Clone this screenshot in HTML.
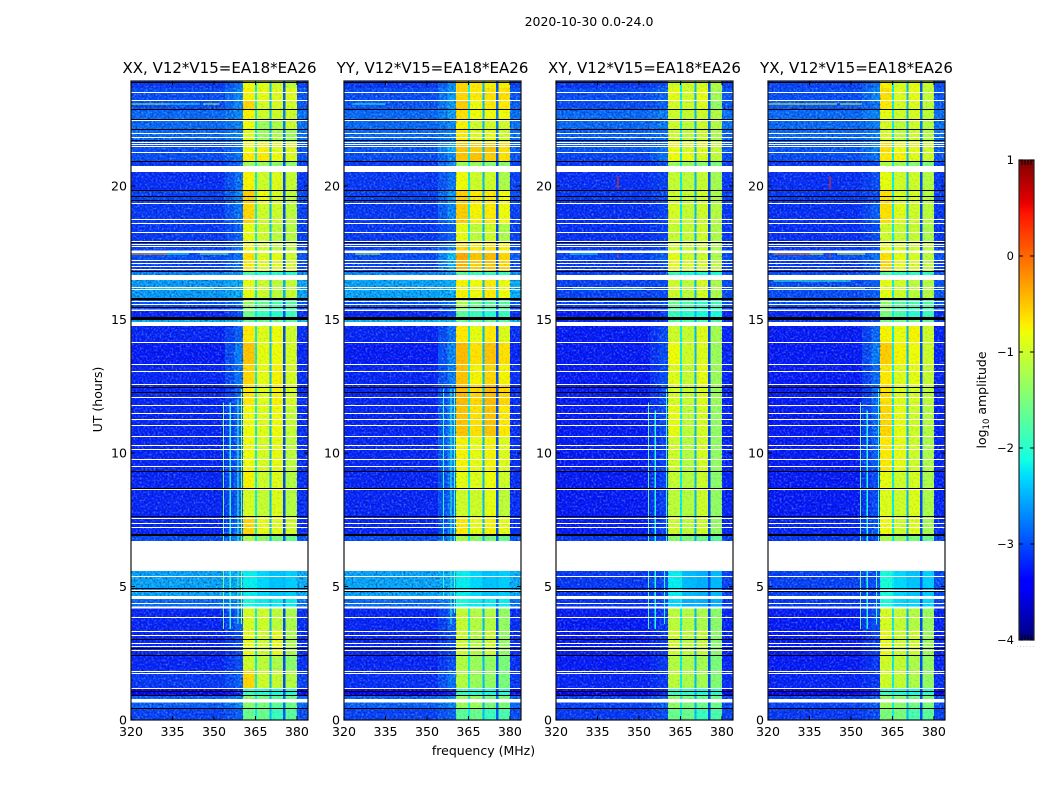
<!DOCTYPE html>
<html>
<head>
<meta charset="utf-8">
<title>Waterfall 2020-10-30</title>
<style>
html,body{margin:0;padding:0;background:#fff;width:1050px;height:800px;overflow:hidden}
svg{display:block}
text{font-family:"DejaVu Sans","Liberation Sans",sans-serif;fill:#000}
</style>
</head>
<body>
<svg id="figure" xmlns="http://www.w3.org/2000/svg" width="1050" height="800" viewBox="0 0 1050 800">
  <defs>
    <filter id="speckleLight" x="0" y="0" width="100%" height="100%" color-interpolation-filters="sRGB">
      <feTurbulence type="fractalNoise" baseFrequency="0.5" numOctaves="1" seed="7"/>
      <feColorMatrix type="matrix" values="0 0 0 0 1  0 0 0 0 1  0 0 0 0 1  3 0 0 0 -1.4"/>
    </filter>
    <filter id="speckleDark" x="0" y="0" width="100%" height="100%" color-interpolation-filters="sRGB">
      <feTurbulence type="fractalNoise" baseFrequency="0.5" numOctaves="1" seed="23"/>
      <feColorMatrix type="matrix" values="0 0 0 0 0  0 0 0 0 0  0 0 0 0 0.3  3 0 0 0 -1.4"/>
    </filter>
  </defs>
  <text x="589" y="26" text-anchor="middle" font-size="12.5">2020-10-30 0.0-24.0</text>
  <text x="483.5" y="755" text-anchor="middle" font-size="12.5">frequency (MHz)</text>
  <text transform="translate(102,399.5) rotate(-90)" text-anchor="middle" font-size="12.5">UT (hours)</text>
  <text transform="translate(986,400) rotate(-90)" text-anchor="middle" font-size="12.5">log<tspan font-size="8.5" dy="3">10</tspan><tspan dy="-3"> amplitude</tspan></text>
  <g id="panels"></g>
  <g>
    <g id="colorbarSteps"></g>
    <rect x="1019" y="160" width="15" height="480" fill="none" stroke="#222" stroke-width="1.2"/>
    <path d="M1019 640h4M1034 640h-4M1019 544h4M1034 544h-4M1019 448h4M1034 448h-4M1019 352h4M1034 352h-4M1019 256h4M1034 256h-4M1019 160h4M1034 160h-4" stroke="#000" stroke-width="1" fill="none"/>
    <path d="M1022 160v5M1025 160v5M1028 160v5M1031 160v5M1022 640v-5M1025 640v-5M1028 640v-5M1031 640v-5" stroke="#000" stroke-width="1" fill="none"/>
    <text x="1014" y="644" text-anchor="end" font-size="11.5">−4</text>
    <text x="1014" y="548" text-anchor="end" font-size="11.5">−3</text>
    <text x="1014" y="452" text-anchor="end" font-size="11.5">−2</text>
    <text x="1014" y="356" text-anchor="end" font-size="11.5">−1</text>
    <text x="1014" y="260" text-anchor="end" font-size="11.5">0</text>
    <text x="1014" y="164" text-anchor="end" font-size="11.5">1</text>
    <text x="1026" y="647" text-anchor="middle" font-size="6" letter-spacing="1.2" style="fill:#999">......</text>
  </g>
</svg>
<script>
/* ---------- data ---------- */
const panelTitles = ["XX, V12*V15=EA18*EA26","YY, V12*V15=EA18*EA26","XY, V12*V15=EA18*EA26","YX, V12*V15=EA18*EA26"];
const freqTicks = [320,335,350,365,380];
const utTicks = [0,5,10,15,20];
/* time block edges, hours */
const utEdges = [0,.45,.94,1.2,1.87,2.43,3.37,4.19,4.64,5.58,6.7,6.93,7.64,8.61,9.36,10.64,11.8,12.58,13.33,14.16,14.76,15.06,15.39,15.81,16.48,16.82,17.23,17.53,17.94,18.61,19.36,19.85,20.52,20.94,21.27,21.65,22.13,22.51,22.88,23.22,23.67,23.95];
/* one row per time block: background, ramp, band1, band2, band3, band4 (log10 amplitude) */
const levelsXX = [
[-3.05,-2.9,-1.6,-1.6,-1.9,-1.7],[-2.9,-2.7,-1.4,-1.5,-1.7,-1.6],[-3.4,-3.2,-1.9,-2,-2.1,-2],[-3.1,-2.9,-.6,-1,-1.05,-1.15],
[-3.2,-3,-1,-1.1,-1.2,-1.4],[-3.2,-3,-.85,-1,-.85,-1.2],[-3.2,-2.9,-.95,-1,-1.1,-1.2],[-2.85,-2.7,-2.1,-2.2,-2.2,-2.2],
[-2.55,-2.5,-2.2,-2.3,-2.4,-2.35],[-2.55,-2.5,-2.2,-2.3,-2.4,-2.35],[-3,-2.7,-1.2,-1.35,-1.5,-1.6],[-3.2,-2.8,-.6,-.85,-.9,-1],
[-3.2,-2.9,-.95,-1.05,-.9,-1.15],[-3.2,-2.9,-.75,-1,-.9,-1.15],[-3.2,-2.9,-.8,-.95,-.85,-1.1],[-3.2,-2.9,-.8,-.9,-.8,-1.05],
[-3.2,-2.9,-.7,-.9,-.75,-.95],[-3.2,-2.8,-.6,-.85,-.75,-.95],[-3.25,-2.75,-.5,-.85,-.8,-.95],[-3.2,-2.9,-.7,-.9,-.8,-1],
[-2.5,-2.4,-1.6,-1.6,-1.6,-1.7],[-3.2,-3,-1.6,-1.9,-2,-1.9],[-3,-2.8,-1.3,-1.6,-1.8,-1.7],[-2.6,-2.5,-.85,-1,-1.1,-1.05],
[-2.7,-2.6,-1.8,-2,-2,-2],[-3.05,-2.8,-.7,-.9,-.9,-.95],[-3,-2.8,-.65,-.9,-.85,-1],[-3.05,-2.8,-.8,-1,-1.1,-1.1],
[-3.1,-2.9,-.85,-1,-1.1,-1.15],[-3.1,-2.8,-.6,-1,-1,-1.1],[-3.05,-2.7,-.55,-.8,-.95,-1.1],[-3.15,-2.8,-.75,-1,-.9,-1.05],
[-3.1,-2.9,-1.3,-1.3,-1.4,-1.4],[-3,-2.8,-.7,-.7,-.8,-.9],[-3,-2.8,-.8,-.75,-.9,-.9],[-2.85,-2.7,-.9,-1.3,-1.2,-1.3],
[-2.85,-2.7,-.8,-1.3,-1.2,-1],[-2.85,-2.7,-.75,-1,-1,-1],[-3,-2.7,-.6,-.95,-.95,-.95],[-3,-2.7,-.75,-.85,-.9,-.9],[-3.1,-2.8,-.8,-.9,-1,-1.1]];
const levelsYY = [
[-3.05,-2.9,-1.7,-1.6,-1.9,-1.8],[-2.9,-2.7,-1.3,-1.3,-1.5,-1.5],[-3.4,-3.2,-1.9,-2,-2.1,-2],[-3.15,-2.8,-1.15,-1.3,-1.35,-1.5],
[-3.2,-3,-1.15,-1.3,-1.35,-1.5],[-3.2,-3,-1,-1.15,-1,-1.35],[-3.2,-2.9,-1.05,-1.15,-1.15,-1.35],[-2.85,-2.7,-2.1,-2.2,-2.2,-2.2],
[-2.55,-2.5,-2.2,-2.3,-2.4,-2.35],[-2.55,-2.5,-2.2,-2.3,-2.4,-2.35],[-3,-2.7,-1.2,-1.35,-1.5,-1.6],[-3.2,-2.8,-.7,-.85,-.75,-.85],
[-3.2,-2.8,-1,-1,-.85,-1.1],[-3.2,-2.8,-.85,-.9,-.8,-1],[-3.2,-2.7,-.75,-.85,-.75,-.9],[-3.2,-2.7,-.5,-.65,-.5,-.7],
[-3.2,-2.8,-.45,-.6,-.45,-.6],[-3.2,-2.75,-.5,-.75,-.6,-.75],[-3.25,-2.7,-.45,-.65,-.5,-.65],[-3.2,-2.8,-.7,-.85,-.7,-.9],
[-2.5,-2.4,-1.6,-1.6,-1.6,-1.7],[-3.2,-3,-1.7,-1.9,-2,-1.9],[-3,-2.8,-1.2,-1.6,-1.7,-1.7],[-2.55,-2.5,-.75,-.8,-.7,-.8],
[-2.7,-2.6,-1.7,-1.9,-1.9,-1.9],[-3.05,-2.5,-.4,-.55,-.5,-.6],[-3,-2.4,-.35,-.5,-.45,-.6],[-3.05,-2.7,-.6,-.7,-.65,-.75],
[-3.1,-2.9,-.85,-1.1,-1,-1.2],[-3.1,-2.7,-.55,-.75,-.7,-.8],[-3.05,-2.6,-.55,-.7,-.7,-.8],[-3.1,-2.8,-.8,-1,-1,-1.2],
[-3.1,-2.7,-1.3,-1.3,-1.4,-1.4],[-3,-2.7,-.5,-.5,-.55,-.65],[-2.95,-2.5,-.5,-.55,-.5,-.65],[-2.85,-2.7,-.7,-.9,-.85,-1],
[-2.85,-2.7,-.75,-1,-.95,-1],[-2.85,-2.6,-.65,-.8,-.8,-.8],[-2.95,-2.6,-.55,-.8,-.7,-.7],[-3,-2.6,-.6,-.7,-.65,-.65],[-3.1,-2.7,-.6,-.7,-.75,-.75]];
const levelsXY = [
[-3.1,-3,-1.6,-1.6,-1.9,-1.8],[-3.05,-2.9,-1.35,-1.5,-1.6,-1.6],[-3.4,-3.2,-1.9,-2,-2.1,-2],[-3.2,-3.1,-1.1,-1.2,-1.25,-1.45],
[-3.25,-3.1,-1.15,-1.2,-1.25,-1.5],[-3.25,-3.1,-1,-1.1,-1.05,-1.4],[-3.25,-3.1,-1.1,-1.15,-1.2,-1.4],[-3.15,-3,-2.3,-2.5,-2.5,-2.5],
[-3.1,-3,-2.2,-2.45,-2.5,-2.45],[-3.1,-3,-2.2,-2.45,-2.5,-2.45],[-3.1,-3,-1.4,-1.5,-1.6,-1.7],[-3.25,-3.05,-1,-1.1,-1,-1.35],
[-3.25,-3.05,-1.1,-1.15,-1,-1.35],[-3.25,-3.05,-1.05,-1.15,-1,-1.4],[-3.25,-3.05,-1,-1.15,-.95,-1.35],[-3.25,-3,-.85,-1.1,-.95,-1.35],
[-3.25,-3,-.95,-1.05,-.9,-1.3],[-3.25,-3,-.9,-1.05,-.85,-1.3],[-3.25,-3,-.8,-1,-.9,-1.3],[-3.25,-3,-1,-1.05,-.9,-1.25],
[-3.2,-3.1,-1.7,-1.8,-1.8,-1.8],[-3.25,-3.1,-1.9,-2,-2.1,-2.1],[-3.05,-3,-1.6,-1.75,-1.9,-1.85],[-3.05,-3,-1,-1.1,-.95,-1.2],
[-3.05,-3,-1.9,-2.1,-2.1,-2.1],[-3.1,-3,-.85,-.95,-.95,-1.1],[-3.05,-2.9,-.85,-1,-1,-1.2],[-3.1,-3,-1,-1.05,-1,-1.2],
[-3.15,-3.05,-1.05,-1.05,-1,-1.2],[-3.15,-3.05,-.95,-1.05,-1,-1.15],[-3.1,-3,-1,-1.05,-1,-1.2],[-3.15,-3.05,-1.05,-1.1,-1.05,-1.25],
[-3.1,-3,-1.3,-1.35,-1.4,-1.5],[-3.05,-2.8,-.8,-.85,-.95,-1.1],[-2.95,-2.8,-.8,-.95,-.9,-1.05],[-2.9,-2.8,-1,-1.1,-1,-1.2],
[-2.85,-2.75,-1,-1.1,-1,-1.15],[-2.85,-2.75,-1,-1.05,-1,-1.15],[-3,-2.9,-.95,-1,-.9,-1.35],[-3,-2.85,-.85,-1,-.85,-1.25],[-3.1,-3,-1,-1,-.95,-1.15]];
const levelsYX = [
[-3.1,-3,-1.5,-1.5,-1.8,-1.7],[-3.05,-2.9,-1.3,-1.4,-1.55,-1.5],[-3.4,-3.2,-1.9,-2,-2.1,-2],[-3.2,-3.1,-1,-1.05,-1.2,-1.35],
[-3.25,-3.1,-1,-1.05,-1.2,-1.35],[-3.25,-3.05,-.85,-1,-1,-1.3],[-3.25,-3,-.95,-1.05,-1.15,-1.3],[-3.1,-3,-2.1,-2.3,-2.3,-2.3],
[-3.05,-3,-2.1,-2.3,-2.4,-2.35],[-3.05,-3,-2.1,-2.3,-2.4,-2.35],[-3.1,-3,-1.2,-1.35,-1.5,-1.6],[-3.2,-2.95,-.8,-1,-.9,-1.25],
[-3.25,-3,-.9,-1,-.9,-1.2],[-3.25,-3,-.85,-1,-.95,-1.2],[-3.25,-2.9,-.7,-.85,-1,-1.2],[-3.25,-2.85,-.6,-.85,-1,-1.15],
[-3.25,-2.85,-.65,-.9,-.95,-1.1],[-3.25,-2.85,-.7,-.9,-.85,-1.05],[-3.25,-2.75,-.55,-.75,-.8,-1],[-3.25,-2.85,-.75,-.85,-.75,-1],
[-3.1,-3,-1.5,-1.55,-1.55,-1.65],[-3.2,-3.1,-1.5,-1.8,-2,-1.9],[-3,-2.9,-1.4,-1.7,-1.8,-1.75],[-3,-2.9,-.85,-1,-1.1,-1.15],
[-3,-2.9,-1.75,-1.95,-1.95,-1.95],[-3.1,-2.9,-.6,-.85,-.95,-1.1],[-3,-2.8,-.65,-.85,-.95,-1.1],[-3.1,-3,-.85,-.95,-1,-1.1],
[-3.15,-3,-1,-1.05,-1.05,-1.2],[-3.15,-2.9,-.65,-.9,-1,-1.1],[-3.1,-3,-.65,-.95,-.95,-1.15],[-3.15,-3,-.85,-1,-1,-1.15],
[-3.1,-3,-1.2,-1.3,-1.4,-1.5],[-3,-2.8,-.7,-.75,-.9,-1],[-2.95,-2.7,-.65,-.8,-.85,-1],[-2.85,-2.75,-.95,-1.1,-1,-1.15],
[-2.85,-2.75,-.95,-1.1,-1,-1.15],[-2.85,-2.7,-.85,-1,-.95,-1.1],[-2.95,-2.8,-.7,-.95,-.9,-1.1],[-3,-2.7,-.65,-.9,-.85,-1.05],[-3.05,-2.8,-.75,-.95,-.85,-1.05]];
const panelLevels = [levelsXX,levelsYY,levelsXY,levelsYX];
/* frequency segments, MHz */
const backgroundBand = [320,354];
const rampBand = [354,360.5];
const signalBands = [[360.5,364.8],[365.6,370],[370.8,375],[375.8,380]];
const edgeBand = [380,384];
const notches = [[364.8,365.6],[370,370.8],[375,375.8]];
const notchLevels = [-2.2,-2.45,-3];
/* flagged time ranges */
const whiteLines = [23.51,23.21,22.48,21.98,21.85,21.65,21.57,21.5,21.26,19.37,18.75,18.61,18.26,17.95,17.83,17.74,17.53,17.22,17.1,16.99,16.88,16.22,16.14,15.68,15.58,14.15,13.32,13.06,12.57,12.09,11.79,11.51,11.28,11.06,10.63,10.29,10.14,9.76,9.52,8.64,7.57,7.37,7.24,5.38,4.87,4.37,3.84,3.32,3.17,2.87,2.77,2.61,1.85,1.76,1.19];
const whiteGaps = [[20.52,20.75],[17.51,17.58],[16.48,16.67],[15.32,15.37],[14.76,14.91],[5.58,6.7],[4.53,4.64],[4.17,4.26],[.65,.79]];
const blackLines = [23.88,22.87,22.52,22.12,21.72,20.94,19.84,19.61,19.49,17.92,16.83,15.82,15.78,15.47,15.09,15.06,15.01,12.46,12.3,9.31,8.68,7.63,6.98,6.92,4.93,4.84,3.02,2.71,2.42,1.1,1.07,.93,.44];
/* narrow-band interference: ut, start MHz, end MHz, level */
const rfiXX = [[23.07,320,334,-1.4],[23.07,334,345,-2.2],[23.07,346,352,-1.3],[17.45,320,333,-.35],[17.45,333,341,-2.1],[17.45,345,355,-1.6],[16.15,325,350,-1.9]];
const rfiYY = [[23.07,323,335,-2.1],[17.45,324,333,-1.3],[18.75,345,349,-2]];
const rfiXY = [[17.45,325,335,-2.2],[16.15,326,352,-2.3],[18.75,336,337,-2]];
const rfiYX = [[23.07,320,345,-1],[23.07,346,354,-1],[17.45,322,335,-.1],[17.45,335,340,-.9],[17.45,345,355,-1],[16.15,322,355,-1.2],[16.45,322,350,-2]];
const panelRfi = [rfiXX,rfiYY,rfiXY,rfiYX];
/* vertical interference: MHz, start UT, end UT, level */
const vertXX = [[353.5,3.4,5.58,-1.6],[353.5,6.7,11.9,-1.6],[355.9,3.4,5.58,-2],[355.9,6.7,11.9,-2],[358.7,3.6,5.58,-1.9],[358.7,6.7,12,-1.9],[360,3.6,5.58,-1.5],[360,6.7,12.4,-1.7]];
const vertYY = [[356,4.5,5.58,-2],[356,6.7,12.4,-2],[358.7,3.6,5.58,-2],[358.7,6.7,12.4,-2],[360,4,5.58,-1.8],[360,6.7,12.4,-1.8]];
const vertXY = [[353.5,3.4,5.58,-1.8],[353.5,6.7,11.9,-1.7],[355.9,3.4,5.58,-2.1],[355.9,6.7,11.6,-2.1],[359.2,3.6,5.58,-2.1],[360,6.7,12.4,-1.9],[342.4,19.88,20.37,.3],[342.4,17.3,17.45,.2]];
const vertYX = [[353.5,3.4,5.58,-1.7],[353.5,6.7,11.9,-1.7],[355.9,3.4,5.58,-2.1],[355.9,6.7,11.6,-2.1],[359.2,3.6,5.58,-1.9],[360,6.7,12.4,-1.9],[342.4,19.88,20.37,.3],[342.4,17.3,17.45,.2]];
const panelVert = [vertXX,vertYY,vertXY,vertYX];

/* ---------- scales ---------- */
const SVGNS = "http://www.w3.org/2000/svg";
const panelLeft = [131,344,556,768];
const plotTop = 81, plotBottom = 720, plotWidth = 177;
const pxPerMHz = plotWidth/64, pxPerHour = 26.7;
const xScale = (p,f) => panelLeft[p]+(f-320)*pxPerMHz;
const yScale = ut => plotBottom-ut*pxPerHour;

const jetR = [[0,0],[.35,0],[.66,1],[.89,1],[1,.5]];
const jetG = [[0,0],[.125,0],[.375,1],[.64,1],[.91,0],[1,0]];
const jetB = [[0,.5],[.11,1],[.34,1],[.65,0],[1,0]];
function jetChannel(tbl,t){
  for(let i=1;i<tbl.length;i++){
    if(t<=tbl[i][0]){
      const a=tbl[i-1],b=tbl[i];
      return a[1]+(b[1]-a[1])*(t-a[0])/(b[0]-a[0]);
    }
  }
  return tbl[tbl.length-1][1];
}
function levelColor(v){
  const t=Math.max(0,Math.min(1,(v+4)/5));
  return "rgb("+Math.round(jetChannel(jetR,t)*255)+","+Math.round(jetChannel(jetG,t)*255)+","+Math.round(jetChannel(jetB,t)*255)+")";
}
function mk(tag,attrs,parent){
  const el=document.createElementNS(SVGNS,tag);
  for(const k in attrs) el.setAttribute(k,attrs[k]);
  parent.appendChild(el);
  return el;
}
function cell(p,g,f0,f1,u0,u1,v,name){
  const x0=xScale(p,f0),x1=xScale(p,f1),yA=yScale(u1),yB=yScale(u0);
  const el=mk("rect",{x:x0,y:yA,width:x1-x0,height:yB-yA,fill:levelColor(v),"shape-rendering":"crispEdges"},g);
  
  
  return el;
}
function speckle(p,g,f0,f1,filterId,op,name){
  const x0=xScale(p,f0),x1=xScale(p,f1);
  const el=mk("rect",{x:x0,y:plotTop,width:x1-x0,height:plotBottom-plotTop,filter:"url(#"+filterId+")",opacity:op},g);
  
  
}

/* ---------- colorbar gradient ---------- */
const colorbarSteps=document.getElementById("colorbarSteps");
for(let py=160;py<640;py+=2){
  const v=1-(py+1-160)/480*5;
  const s=mk("rect",{x:1019,y:py,width:15,height:2,fill:levelColor(v),"shape-rendering":"crispEdges"},colorbarSteps);
  
  
}

/* ---------- panels ---------- */
const panelsRoot=document.getElementById("panels");
panelTitles.forEach(function(title,p){
  const g=mk("g",{},panelsRoot);
  
  
  const cells=mk("g",{},g);
  
  
  const rows=panelLevels[p];
  rows.forEach(function(r,i){
    const u0=utEdges[i],u1=utEdges[i+1];
    cell(p,cells,backgroundBand[0],backgroundBand[1],u0,u1,r[0],'heat-cell');
    cell(p,cells,rampBand[0],357.5,u0,u1,(r[0]+r[1])/2,'heat-cell');
    cell(p,cells,357.5,rampBand[1],u0,u1,r[1],'heat-cell');
    signalBands.forEach(function(b,k){
      cell(p,cells,b[0],b[1],u0,u1,r[2+k],'heat-cell');
    });
    notches.forEach(function(b,k){
      cell(p,cells,b[0],b[1],u0,u1,Math.max(notchLevels[k],r[0]+.1),'heat-cell');
    });
    cell(p,cells,edgeBand[0],edgeBand[1],u0,u1,r[0]+.05,'heat-cell');
  });
  /* speckle texture: strong over the background, faint over the signal bands */
  speckle(p,g,320,360.5,"speckleLight",.3,'background-speckle-light');
  speckle(p,g,320,360.5,"speckleDark",.45,'background-speckle-dark');
  speckle(p,g,380,384,"speckleLight",.3,'edge-speckle-light');
  speckle(p,g,380,384,"speckleDark",.45,'edge-speckle-dark');
  speckle(p,g,360.5,380,"speckleDark",.1,'band-speckle-dark');
  panelVert[p].forEach(function(d){
    cell(p,g,d[0]-.2,d[0]+.2,d[1],d[2],d[3],'vertical-interference');
  });
  panelRfi[p].forEach(function(d){
    cell(p,g,d[1],d[2],d[0]-.02,d[0]+.02,d[3],'horizontal-interference');
  });
  whiteGaps.forEach(function(d){
    const l=mk("rect",{x:panelLeft[p],y:yScale(d[1]),width:plotWidth,height:yScale(d[0])-yScale(d[1]),fill:"#fff","shape-rendering":"crispEdges"},g);
    
    
  });
  whiteLines.forEach(function(u){
    const l=mk("rect",{x:panelLeft[p],y:Math.round(yScale(u)),width:plotWidth,height:1,fill:"#fff","shape-rendering":"crispEdges"},g);
    
    
  });
  blackLines.forEach(function(u){
    const l=mk("rect",{x:panelLeft[p],y:Math.round(yScale(u)),width:plotWidth,height:1,fill:"#000","shape-rendering":"crispEdges"},g);
    
    
  });
  /* frame */
  const frame=mk("rect",{x:panelLeft[p],y:plotTop,width:plotWidth,height:plotBottom-plotTop,fill:"none",stroke:"#111","stroke-width":1.2},g);
  
  
  /* title */
  const t=mk("text",{x:panelLeft[p]+plotWidth/2,y:73,"text-anchor":"middle","font-size":15},g);
  t.textContent=title;
  
  
  /* ticks */
  freqTicks.forEach(function(f){
    const x=xScale(p,f);
    const tk=mk("path",{d:"M"+x+" "+plotBottom+"v-4M"+x+" "+plotTop+"v4",stroke:"#000","stroke-width":1,fill:"none"},g);
    
    
    const lb=mk("text",{x:x,y:plotBottom+16,"text-anchor":"middle","font-size":12.6},g);
    lb.textContent=f;
    
    
  });
  utTicks.forEach(function(u){
    const y=yScale(u);
    const xl=panelLeft[p],xr=panelLeft[p]+plotWidth;
    const tk=mk("path",{d:"M"+xl+" "+y+"h4M"+xr+" "+y+"h-4",stroke:"#000","stroke-width":1,fill:"none"},g);
    
    
    const lb=mk("text",{x:xl-4,y:y+4.5,"text-anchor":"end","font-size":12.6},g);
    lb.textContent=u;
    
    
  });
});
</script>
</body>
</html>
